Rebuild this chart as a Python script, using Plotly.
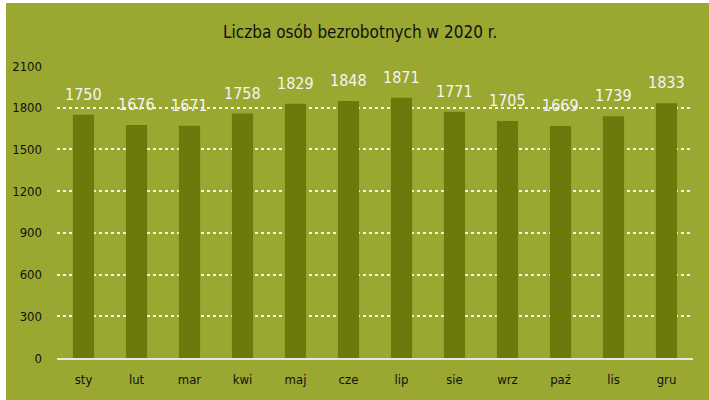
import plotly.graph_objects as go

months = ["sty", "lut", "mar", "kwi", "maj", "cze", "lip", "sie", "wrz", "paź", "lis", "gru"]
values = [1750, 1676, 1671, 1758, 1829, 1848, 1871, 1771, 1705, 1669, 1739, 1833]
y_ticks = [0, 300, 600, 900, 1200, 1500, 1800, 2100]

BG = "#9AA832"
BAR = "#6C7A0C"
FONT = "Liberation Sans Narrow, DejaVu Sans Condensed, Arial Narrow, sans-serif"

W, H = 709, 400
ml, mr, mt, mb = 57, 16, 66, 42
pw, ph = W - ml - mr, H - mt - mb

fig = go.Figure()
fig.add_trace(go.Bar(
    x=months, y=values, marker_color=BAR, marker_line_width=0, width=0.4,
    cliponaxis=False, hoverinfo="skip",
))
for m, v in zip(months, values):
    fig.add_annotation(x=m, y=v, text=str(v), showarrow=False, yanchor="bottom",
                       yshift=9, font=dict(color="#F4F4F4", size=16, family=FONT))

# background panel (white strip at left/top)
fig.add_shape(type="rect", xref="paper", yref="paper",
              x0=(6 - ml) / pw, x1=(W - ml) / pw,
              y0=-mb / ph, y1=(ph + mt - 3) / ph,
              fillcolor=BG, line_width=0, layer="below")

fig.update_layout(
    width=W, height=H,
    margin=dict(l=ml, r=mr, t=mt, b=mb, pad=0, autoexpand=False),
    paper_bgcolor="white", plot_bgcolor=BG,
    title=dict(text="Liczba osób bezrobotnych w 2020 r.", x=0.508, xanchor="center",
               y=1 - 32 / H, yanchor="middle",
               font=dict(size=17, color="#111111", family=FONT)),
    showlegend=False,
    font=dict(family=FONT),
)
fig.update_xaxes(showgrid=False, showline=True, linecolor="#E6E6E6", linewidth=2,
                 ticks="", tickfont=dict(size=13, color="#111111", family=FONT),
                 ticklabelstandoff=8, automargin=False)
fig.update_yaxes(range=[0, 2100], tickvals=y_ticks, showgrid=True,
                 gridcolor="#F2F2F2", griddash="dot", gridwidth=1.5,
                 zeroline=False, showline=False, ticks="",
                 tickfont=dict(size=13, color="#111111", family=FONT),
                 ticklabelstandoff=14, automargin=False)

fig.write_html("out.html", config={"displayModeBar": False},
               post_script="document.body.style.margin='0';")
